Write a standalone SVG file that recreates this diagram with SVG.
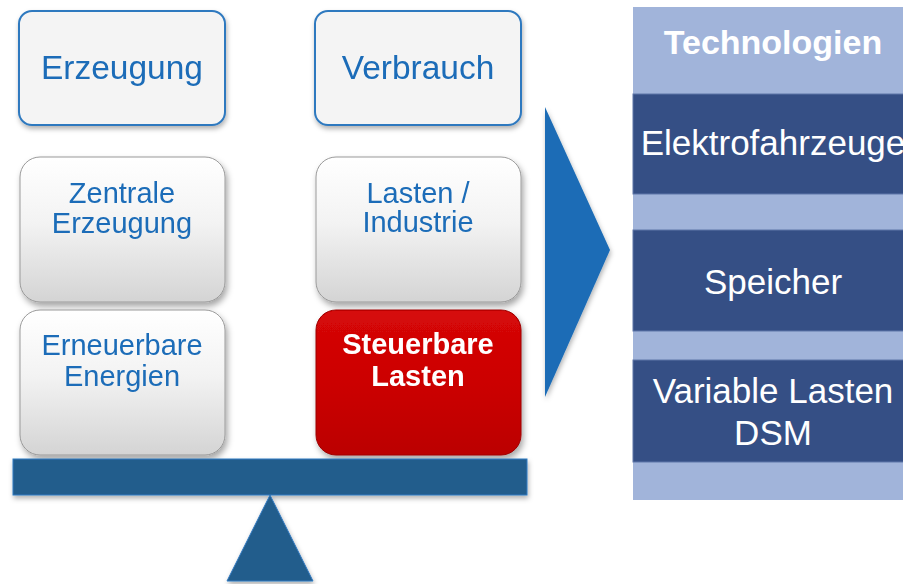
<svg xmlns="http://www.w3.org/2000/svg" width="903" height="584" viewBox="0 0 903 584">
  <defs>
    <linearGradient id="gGray" x1="0" y1="0" x2="0" y2="1">
      <stop offset="0" stop-color="#ffffff"/>
      <stop offset="0.45" stop-color="#f3f3f3"/>
      <stop offset="1" stop-color="#d4d4d4"/>
    </linearGradient>
    <linearGradient id="gRed" x1="0" y1="0" x2="0" y2="1">
      <stop offset="0" stop-color="#d60808"/>
      <stop offset="0.5" stop-color="#cc0202"/>
      <stop offset="1" stop-color="#bb0000"/>
    </linearGradient>
    <filter id="shadow" x="-10%" y="-10%" width="125%" height="130%">
      <feDropShadow dx="2" dy="4" stdDeviation="3" flood-color="#000000" flood-opacity="0.35"/>
    </filter>
    <filter id="softShadow" x="-10%" y="-10%" width="125%" height="130%">
      <feDropShadow dx="1" dy="3" stdDeviation="2.5" flood-color="#000000" flood-opacity="0.3"/>
    </filter>
  </defs>
  <style>
    .head { fill: #f4f4f4; stroke: #2f79bf; stroke-width: 2; }
    .gray { fill: url(#gGray); stroke: #9a9a9a; stroke-width: 1; }
    .red { fill: url(#gRed); stroke: #9c0000; stroke-width: 1; }
    .blueTxt { font-family: "Liberation Sans", Arial, sans-serif; fill: #1a6cb8; text-anchor: middle; }
    .whiteTxt { font-family: "Liberation Sans", Arial, sans-serif; fill: #ffffff; text-anchor: middle; }
    .light { fill: #a1b4da; }
    .dark { fill: #354f85; stroke: #5f76a8; stroke-width: 1; }
  </style>

  <!-- column headings -->
  <g id="erzeugung" filter="url(#softShadow)">
    <rect class="head" x="19" y="11" width="206" height="114" rx="13"/>
    <text class="blueTxt" x="122" y="79" font-size="33.5">Erzeugung</text>
  </g>
  <g id="verbrauch" filter="url(#softShadow)">
    <rect class="head" x="315" y="11" width="206" height="114" rx="13"/>
    <text class="blueTxt" x="418" y="79" font-size="33.5">Verbrauch</text>
  </g>

  <!-- stacked blocks on the balance -->
  <g id="zentrale" filter="url(#shadow)">
    <rect class="gray" x="20" y="157" width="205" height="145" rx="20"/>
    <text class="blueTxt" x="122" y="203" font-size="29">Zentrale</text>
    <text class="blueTxt" x="122" y="233" font-size="29">Erzeugung</text>
  </g>
  <g id="lasten" filter="url(#shadow)">
    <rect class="gray" x="316" y="157" width="205" height="145" rx="20"/>
    <text class="blueTxt" x="418" y="203" font-size="29">Lasten /</text>
    <text class="blueTxt" x="418" y="232" font-size="29">Industrie</text>
  </g>
  <g id="erneuerbare" filter="url(#shadow)">
    <rect class="gray" x="20" y="310" width="205" height="145" rx="20"/>
    <text class="blueTxt" x="122" y="355" font-size="29">Erneuerbare</text>
    <text class="blueTxt" x="122" y="386" font-size="29">Energien</text>
  </g>
  <g id="steuerbare" filter="url(#shadow)">
    <rect class="red" x="316" y="310" width="205" height="145" rx="20"/>
    <text class="whiteTxt" x="418" y="354" font-size="29" font-weight="bold">Steuerbare</text>
    <text class="whiteTxt" x="418" y="386" font-size="29" font-weight="bold">Lasten</text>
  </g>

  <!-- balance beam and pivot -->
  <g id="waage" filter="url(#softShadow)">
    <rect x="13" y="459" width="514" height="36" fill="#245d8c" stroke="#2f7ac0" stroke-width="1"/>
    <polygon points="270,495 313,581 227,581" fill="#245d8c" stroke="#2f7ac0" stroke-width="1"/>
  </g>

  <!-- connector: arrow towards the technologies -->
  <g id="connectors">
    <polygon points="545,107 610,250 545,397" fill="#1b6cb6" filter="url(#softShadow)"/>
  </g>

  <!-- technologies column -->
  <g id="technologien">
    <rect class="light" x="633" y="7" width="280" height="493"/>
    <text class="whiteTxt" x="773" y="54" font-size="34" font-weight="bold">Technologien</text>
  </g>
  <g id="elektrofahrzeuge">
    <rect class="dark" x="633" y="94" width="280" height="100"/>
    <text class="whiteTxt" x="773" y="155" font-size="35">Elektrofahrzeuge</text>
  </g>
  <g id="speicher">
    <rect class="dark" x="633" y="230" width="280" height="101"/>
    <text class="whiteTxt" x="773" y="294" font-size="35">Speicher</text>
  </g>
  <g id="variable">
    <rect class="dark" x="633" y="360" width="280" height="102"/>
    <text class="whiteTxt" x="773" y="403" font-size="35">Variable Lasten</text>
    <text class="whiteTxt" x="773" y="445" font-size="35">DSM</text>
  </g>
</svg>
